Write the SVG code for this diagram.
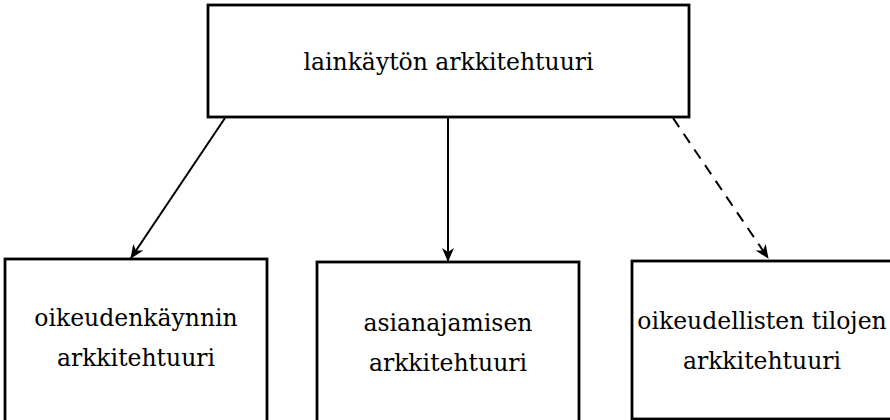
<svg xmlns="http://www.w3.org/2000/svg" width="890" height="420" viewBox="0 0 890 420">
  <style>
    .box { fill: #ffffff; stroke: #000000; stroke-width: 2.8; }
    .label { font-family: "DejaVu Serif", "Liberation Serif", serif; font-size: 23.5px; fill: #000000; text-anchor: middle; }
    .edge { fill: none; stroke: #000000; stroke-width: 2; }
    .dashed { stroke-dasharray: 11 8; }
  </style>
  <defs>
    <marker id="arrow" viewBox="0 0 14 12" refX="13" refY="6" markerWidth="14" markerHeight="12" markerUnits="userSpaceOnUse" orient="auto">
      <path d="M0,0 L14,6 L0,12 L4,6 Z" fill="#000000"/>
    </marker>
  </defs>
  <rect width="890" height="420" fill="#ffffff"/>

  <g id="connectors">
    <line class="edge" x1="225" y1="118" x2="131" y2="258" marker-end="url(#arrow)"/>
    <line class="edge" x1="448" y1="118" x2="448" y2="261" marker-end="url(#arrow)"/>
    <line class="edge dashed" x1="673" y1="118" x2="768" y2="258" marker-end="url(#arrow)"/>
  </g>

  <g id="node-lainkaytto">
    <rect class="box" x="208" y="5" width="481" height="112"/>
    <text class="label" x="448.5" y="70">lainkäytön arkkitehtuuri</text>
  </g>

  <g id="node-oikeudenkaynti">
    <rect class="box" x="5" y="259" width="262" height="170"/>
    <text class="label" x="136" y="326">oikeudenkäynnin</text>
    <text class="label" x="136" y="366">arkkitehtuuri</text>
  </g>

  <g id="node-asianajaminen">
    <rect class="box" x="317" y="262" width="262" height="170"/>
    <text class="label" x="448" y="331">asianajamisen</text>
    <text class="label" x="448" y="371">arkkitehtuuri</text>
  </g>

  <g id="node-oikeudelliset-tilat">
    <rect class="box" x="632" y="261" width="262" height="158"/>
    <text class="label" x="762" y="329">oikeudellisten tilojen</text>
    <text class="label" x="762" y="369">arkkitehtuuri</text>
  </g>
</svg>
